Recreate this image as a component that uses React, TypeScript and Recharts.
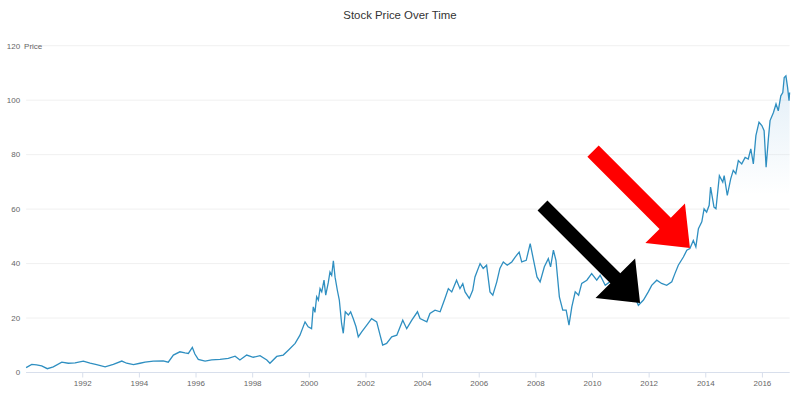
import React from "react";
import {
  ComposedChart,
  Area,
  XAxis,
  YAxis,
  CartesianGrid,
  ReferenceDot,
} from "recharts";

// decimal years
const dates = [
  1990.0, 1990.2, 1990.37, 1990.55, 1990.75, 1990.96, 1991.26, 1991.49, 1991.73, 1992.02,
  1992.26, 1992.49, 1992.79, 1993.08, 1993.38, 1993.55, 1993.79, 1994.02, 1994.2, 1994.49,
  1994.84, 1995.02, 1995.2, 1995.43, 1995.61, 1995.73, 1995.87, 1995.96, 1996.08, 1996.32,
  1996.55, 1996.85, 1997.14, 1997.38, 1997.55, 1997.79, 1998.02, 1998.26, 1998.5, 1998.61,
  1998.85, 1999.08, 1999.26, 1999.5, 1999.67, 1999.85, 1999.96, 2000.08, 2000.14, 2000.2,
  2000.26, 2000.32, 2000.38, 2000.44, 2000.52, 2000.58, 2000.67, 2000.73, 2000.79, 2000.85,
  2000.91, 2000.99, 2001.06, 2001.14, 2001.2, 2001.27, 2001.38, 2001.46, 2001.55, 2001.65,
  2001.73, 2001.85, 2002.03, 2002.2, 2002.38, 2002.5, 2002.59, 2002.73, 2002.91, 2003.09,
  2003.3, 2003.44, 2003.62, 2003.82, 2003.91, 2004.15, 2004.26, 2004.44, 2004.62, 2004.79,
  2004.91, 2005.03, 2005.2, 2005.32, 2005.42, 2005.5, 2005.65, 2005.77, 2005.85, 2006.03,
  2006.14, 2006.26, 2006.38, 2006.48, 2006.62, 2006.73, 2006.85, 2006.99, 2007.15, 2007.27,
  2007.41, 2007.5, 2007.66, 2007.8, 2007.92, 2008.04, 2008.15, 2008.3, 2008.44, 2008.52,
  2008.62, 2008.71, 2008.83, 2008.95, 2009.07, 2009.17, 2009.27, 2009.39, 2009.51, 2009.62,
  2009.8, 2009.97, 2010.15, 2010.27, 2010.45, 2010.7, 2010.98, 2011.27, 2011.44, 2011.62,
  2011.8, 2011.97, 2012.09, 2012.27, 2012.44, 2012.62, 2012.8, 2012.91, 2013.03, 2013.21,
  2013.33, 2013.44, 2013.56, 2013.65, 2013.74, 2013.86, 2013.94, 2014.03, 2014.12, 2014.17,
  2014.29, 2014.36, 2014.48, 2014.6, 2014.65, 2014.76, 2014.88, 2014.97, 2015.06, 2015.15,
  2015.27, 2015.39, 2015.5, 2015.59, 2015.68, 2015.77, 2015.88, 2015.98, 2016.06, 2016.13,
  2016.21, 2016.27, 2016.39, 2016.48, 2016.56, 2016.65, 2016.72, 2016.77, 2016.83, 2016.89,
  2016.94, 2016.96,
];

const prices = [
  1.8, 3.0, 2.8, 2.4, 1.4, 2.1, 3.8, 3.4, 3.5, 4.2,
  3.4, 2.9, 2.1, 3.0, 4.2, 3.4, 2.9, 3.4, 3.8, 4.2,
  4.3, 3.8, 6.4, 7.6, 7.2, 7.0, 9.2, 6.8, 4.8, 4.2,
  4.6, 4.8, 5.2, 6.0, 4.6, 6.4, 5.6, 6.2, 4.6, 3.4,
  5.9, 6.4, 8.2, 10.7, 13.7, 18.6, 16.8, 16.1, 24.1, 22.1,
  27.8, 26.6, 30.8, 29.6, 33.9, 28.4, 33.0, 36.9, 35.7, 41.0,
  35.0, 30.2, 26.6, 18.0, 14.4, 22.3, 21.1, 22.3, 19.8, 16.8,
  13.1, 14.9, 17.4, 19.8, 18.6, 13.7, 10.1, 10.7, 13.1, 13.7,
  19.2, 16.1, 19.2, 22.3, 19.8, 18.6, 21.7, 22.9, 22.3, 27.2,
  30.8, 29.6, 33.9, 30.8, 32.6, 29.6, 27.2, 30.2, 35.1, 40.0,
  38.2, 39.4, 29.6, 28.4, 33.3, 38.2, 40.6, 39.4, 40.6, 42.4,
  44.2, 40.6, 41.2, 47.3, 41.2, 35.1, 33.3, 38.8, 41.8, 38.8,
  44.9, 41.2, 27.8, 22.9, 22.9, 17.4, 24.1, 29.6, 28.4, 32.7,
  33.9, 36.3, 33.9, 35.7, 32.0, 34.0, 31.0, 33.0, 29.0, 24.7,
  26.6, 29.6, 32.0, 33.9, 32.7, 32.0, 33.3, 36.3, 39.4, 42.4,
  44.9, 45.5, 48.5, 46.1, 52.8, 55.3, 60.1, 58.9, 61.4, 68.1,
  60.7, 60.1, 72.3, 69.9, 72.3, 65.0, 71.1, 74.2, 73.0, 77.8,
  76.6, 79.0, 78.4, 82.1, 76.6, 87.0, 91.9, 90.7, 88.8, 75.4,
  85.8, 92.5, 95.5, 98.6, 96.1, 101.6, 102.8, 108.3, 108.9, 104.6,
  99.8, 102.8,
];

const yearTicks = [1992, 1994, 1996, 1998, 2000, 2002, 2004, 2006, 2008, 2010, 2012, 2014, 2016];
const priceTicks = [0, 20, 40, 60, 80, 100, 120];

// arrow tips: [year, price]
const blackArrowTip = [2011.68, 25.5];
const redArrowTip = [2013.44, 45.7];

const data = dates.map((d, i) => ({ date: d, price: prices[i] }));

const FONT = "'Liberation Sans', Arial, sans-serif";

function makeArrow(color: string, shaft: number, len: number) {
  return (props: any) => {
    const { cx, cy } = props;
    const headLen = 35;
    const headHalf = 28;
    const s = shaft / 2;
    const pts = [
      [0, 0],
      [-headLen, -headHalf],
      [-headLen, -s],
      [-len, -s],
      [-len, s],
      [-headLen, s],
      [-headLen, headHalf],
    ]
      .map((p) => p.join(","))
      .join(" ");
    return (
      <polygon points={pts} fill={color} transform={`translate(${cx},${cy}) rotate(45)`} />
    );
  };
}

function PriceTick({ x, y, payload }: any) {
  return (
    <g>
      <text x={x} y={y} dy="0.355em" textAnchor="end" fill="#666" fontSize={8} fontFamily={FONT}>
        {payload.value}
      </text>
      {payload.value === 120 && (
        <text x={x + 4} y={y} dy="0.355em" textAnchor="start" fill="#666" fontSize={8} fontFamily={FONT}>
          Price
        </text>
      )}
    </g>
  );
}

export default function App() {
  return (
    <div style={{ position: "relative", width: 800, height: 400, background: "#fff" }}>
      <style>{`body{margin:0}`}</style>
      <div
        style={{
          position: "absolute",
          top: 8,
          left: 0,
          width: 800,
          textAlign: "center",
          fontFamily: FONT,
          fontSize: 11.4,
          lineHeight: "14px",
          color: "#333",
        }}
      >
        Stock Price Over Time
      </div>
      <ComposedChart
        width={800}
        height={400}
        data={data}
        margin={{ top: 45.7, right: 10.4, bottom: 7.5, left: 0 }}
      >
        <defs>
          <linearGradient id="priceFill" x1="0" y1="0" x2="0" y2="1">
            <stop offset="0%" stopColor="#c9e0f0" stopOpacity={0.9} />
            <stop offset="40%" stopColor="#c9e0f0" stopOpacity={0} />
          </linearGradient>
        </defs>
        <CartesianGrid stroke="#f0f0f0" vertical={false} />
        <XAxis
          dataKey="date"
          type="number"
          domain={["dataMin", "dataMax"]}
          ticks={yearTicks}
          height={20}
          stroke="#d8dfec"
          tickSize={5}
          tickMargin={3}
          tick={{ fontSize: 8, fill: "#666", fontFamily: FONT }}
        />
        <YAxis
          type="number"
          domain={[0, 120]}
          ticks={priceTicks}
          width={26.1}
          axisLine={false}
          tickLine={false}
          tickSize={0}
          tickMargin={6}
          tick={<PriceTick />}
        />
        <Area
          type="linear"
          dataKey="price"
          stroke="#2f8fc1"
          strokeWidth={1.3}
          fill="url(#priceFill)"
          isAnimationActive={false}
          dot={false}
          activeDot={false}
        />
        <ReferenceDot
          x={blackArrowTip[0]}
          y={blackArrowTip[1]}
          shape={makeArrow("#000", 14, 138)}
        />
        <ReferenceDot
          x={redArrowTip[0]}
          y={redArrowTip[1]}
          shape={makeArrow("#ff0000", 16, 137)}
        />
      </ComposedChart>
    </div>
  );
}
